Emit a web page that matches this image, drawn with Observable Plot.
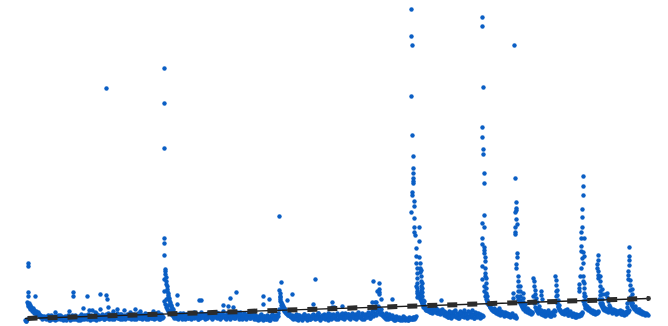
<!DOCTYPE html>
<html>
<head>
<meta charset="utf-8">
<script src="https://cdn.jsdelivr.net/npm/d3@7"></script>
<script src="https://cdn.jsdelivr.net/npm/@observablehq/plot@0.6"></script>
<style>
  html, body { margin: 0; padding: 0; background: #fff; }
  #chart svg { display: block; }
</style>
</head>
<body>
<div id="chart"></div>
<script>
// Daily level, first reading of each day (day = array position)
const baseline = [
  1,0,2,17,15,14,13,12,11,10,9,8,8,7,6,6,5,5,4,3,
  4,2,5,3,1,4,6,2,3,5,1,4,2,6,3,2,5,4,1,3,
  5,2,4,6,3,1,4,2,5,3,6,2,4,1,5,3,7,2,4,6,
  3,5,2,7,4,1,6,3,5,2,4,8,3,6,2,5,3,7,4,2,
  6,3,5,8,2,4,7,3,5,2,6,4,8,3,5,2,7,4,3,6,
  2,5,7,3,4,6,2,5,3,7,4,2,6,5,3,8,4,2,5,6,
  3,7,4,2,6,5,3,4,7,2,5,3,6,4,2,5,7,3,4,
  20,17,14,12,10,9,8,7,6,
  5,4,6,3,7,2,5,4,6,3,8,4,2,5,7,3,6,4,2,5,
  7,3,5,8,4,2,6,3,9,5,4,7,2,6,3,8,5,4,6,3,
  5,9,4,6,3,8,5,2,7,4,10,6,3,5,8,4,6,2,7,5,
  4,8,3,6,9,5,2,7,4,6,3,8,5,2,6,4,7,3,5,8,
  4,2,6,3,5,1,4,2,7,3,1,5,3,2,6,4,1,5,3,7,
  4,2,6,3,5,8,12,
  20,16,14,12,10,9,8,7,6,8,5,
  4,6,2,5,3,7,4,1,6,3,5,2,4,7,3,5,1,6,4,2,
  5,3,7,4,2,6,3,8,5,1,4,6,3,7,2,5,4,8,3,6,
  2,5,7,4,3,6,8,2,5,4,7,3,6,2,8,5,4,7,3,6,
  4,8,5,3,7,2,6,9,4,5,3,8,6,2,7,5,4,9,6,3,
  7,10,5,12,8,6,11,14,9,7,12,8,5,
  6,3,8,4,2,7,5,3,6,2,4,1,5,3,2,4,1,3,2,5,
  2,1,3,2,1,4,2,
  3,2,4,2,3,5,30,26,24,22,20,18,16,14,12,11,
  12,10,13,9,11,8,12,10,9,13,8,11,10,7,9,12,8,6,9,
  5,8,4,10,6,3,9,7,5,11,4,8,6,3,10,7,5,9,4,8,
  6,3,10,5,8,4,11,7,3,9,6,4,8,5,3,
  4,6,5,30,25,22,20,
  18,16,14,12,11,10,13,9,8,11,7,9,6,10,8,7,5,9,6,8,5,7,4,6,8,5,
  4,6,3,25,22,20,18,
  16,14,12,15,10,11,9,12,8,10,7,9,
  25,18,14,11,10,8,12,9,7,
  8,6,10,5,9,7,11,6,8,5,9,7,6,10,
  25,18,14,12,10,9,8,
  10,7,11,8,12,6,9,10,7,5,8,6,4,7,5,6,
  5,7,6,8,20,17,15,
  14,12,11,13,10,9,11,8,10,7,9,
  8,10,22,18,16,14,
  12,11,13,10,12,9,11,14,10,8,12,9,11,7,10,8,9,11,7,10,8,6,9,7,10,
  9,11,20,17,15,
  14,12,13,10,11,9,12,8,10,7,9,8,6,8,7
];

// Second reading, taken on odd days 1, 3, 5, ... 623
const baselineOdd = [
  0,15,12,10,8,7,6,4,
  2,5,3,6,1,4,2,5,3,6,2,4,1,5,3,6,2,4,3,1,5,2,6,3,4,2,5,1,6,3,4,2,7,3,5,2,6,4,3,7,2,5,
  4,6,3,7,2,5,8,3,6,4,2,7,5,3,6,8,4,2,5,
  30,22,16,11,7,
  3,6,4,8,2,5,7,3,6,4,9,5,2,7,4,6,3,8,5,2,6,9,4,3,7,5,2,8,6,4,3,7,5,9,2,6,4,8,3,5,7,2,4,6,3,5,2,4,1,6,3,2,5,
  24,15,11,8,6,5,
  3,5,2,6,4,1,7,3,5,2,6,4,3,8,2,5,4,6,1,7,3,5,2,6,4,8,3,5,7,2,6,4,3,8,5,2,6,4,7,3,
  9,13,7,15,10,6,
  4,2,6,3,5,1,4,2,3,1,4,2,1,3,
  2,4,35,28,24,18,15,12,
  11,9,13,10,12,8,11,9,10,
  7,4,9,5,10,6,3,8,5,11,7,4,9,6,3,8,5,7,
  5,35,26,
  17,14,12,10,11,8,9,7,8,6,7,5,6,
  5,4,30,21,
  15,13,11,10,9,8,
  20,13,10,9,
  7,10,6,9,5,8,11,
  30,15,11,8,
  9,11,6,8,5,7,4,6,
  6,9,25,
  15,13,11,10,9,8,
  9,26,17,
  13,11,12,10,9,11,8,10,9,7,8,9,
  10,24,18,
  13,11,10,9,8,7,7,6
];

// Additional readings (day, value): bursts and outliers
const bursts = [
  [3,58],[3,55],[3,29],[3,25],[10,25],
  [2,19],[3,17],[4,18],[4,15],[5,16],[5,13],[6,14],[7,12],[8,13],[8,10],[9,11],[10,9],[11,10],[12,8],[13,9],[14,7],
  [81,233],
  [48,29],[48,25],[62,25],[75,27],[81,26],[82,22],
  [58,13],[64,11],[67,11],[75,12],[83,14],[92,12],[110,12],[128,10],
  [30,9],[44,10],[70,9],[88,10],[99,11],[105,9],[115,10],[120,8],[133,9],
  [139,253],[139,218],[139,173],[139,83],[139,78],[139,66],[140,52],[140,50],[139,42],[141,44],
  [140,47],[141,40],[141,37],[142,35],[142,32],[142,30],[143,28],[143,26],[143,24],[144,23],[144,21],
  [145,19],[145,17],[146,15],[146,16],[147,13],[148,12],[148,10],
  [152,26],[152,17],[176,21],[174,21],
  [205,23],[211,29],[198,16],[203,15],[208,14],
  [238,25],[238,17],[244,22],
  [256,39],[254,31],[255,28],[255,25],[255,22],[256,19],[257,17],[258,15],[259,13],[260,12],[254,105],
  [262,21],[267,27],
  [290,42],[288,17],[307,19],[307,14],[309,14],[317,15],
  [348,40],[354,38],[352,30],[354,32],[354,29],[354,27],[356,22],[367,22],[350,19],[347,19],[351,19],
  [386,312],[386,285],[387,276],[386,225],[387,186],[388,165],[388,153],[388,148],[388,143],[388,140],
  [388,138],[387,129],[387,126],[389,120],[389,115],[386,109],[389,103],[389,94],[394,94],[389,89],
  [390,86],[394,80],[391,73],[391,65],[394,64],[391,58],[392,53],[395,58],[395,53],[395,49],[392,48],
  [392,43],[392,38],[392,33],[392,28],[392,24],[396,51],[396,45],[396,40],[396,35],[396,31],[396,28],
  [397,38],[397,33],[397,29],[397,25],[397,21],[398,21],[398,17],[398,14],[399,20],[399,16],[400,13],[401,11],
  [416,21],
  [457,304],[457,295],[458,234],[457,194],[457,184],[458,172],[458,167],[459,148],[459,138],[459,106],
  [457,98],[459,94],[457,83],[457,77],[459,74],[459,71],[459,68],[460,64],[460,60],[457,55],[460,53],
  [460,48],[460,45],[457,42],[461,43],[461,38],[461,33],[461,28],[462,25],[462,21],[462,18],[464,16],
  [465,14],[467,12],[469,10],[474,13],[478,9],[482,7],
  [489,276],[490,143],[491,119],[491,113],[491,111],[490,109],[491,102],[492,97],[490,94],[490,89],
  [490,87],[492,68],[492,64],[491,57],[491,53],[493,45],[493,40],[493,35],[495,35],[495,30],[495,25],
  [498,28],[498,23],[498,19],[498,15],[488,28],[488,23],[500,17],[502,13],[505,10],
  [508,43],[509,40],[509,35],[510,31],[510,27],[511,23],[512,19],[514,15],[516,11],[516,30],[516,26],[517,22],
  [530,45],[531,41],[531,36],[532,31],[532,26],[533,21],[534,16],[534,12],
  [558,145],[558,135],[558,126],[557,112],[557,104],[557,94],[556,89],[556,83],[559,83],[556,75],
  [556,70],[558,69],[559,65],[557,63],[558,58],[556,53],[555,45],[558,45],[558,40],[554,37],[554,33],
  [554,30],[559,38],[559,33],[559,28],[560,25],[560,21],[560,17],[560,13],[562,15],[564,12],[566,10],[568,8],
  [573,66],[573,61],[572,57],[572,53],[573,50],[573,46],[573,43],[575,45],[575,40],[575,35],[575,30],
  [577,32],[577,27],[577,22],[577,18],[578,15],[580,12],[582,28],[582,24],[580,27],[583,20],[584,16],[586,11],
  [604,74],[604,65],[604,61],[604,56],[603,50],[603,46],[603,42],[605,41],[605,36],[605,31],[607,32],
  [607,27],[607,22],[607,18],[602,18],[602,14],[610,15],[613,12],[616,10],[619,8]
];

// Linear trend: [day, value] at both ends
const trendDays = [0, 623];
const trendValues = [3, 23];

const points = baseline.map((v, i) => ({day: i, value: v}))
  .concat(baselineOdd.map((v, i) => ({day: 2 * i + 1, value: v})))
  .concat(bursts.map(([d, v]) => ({day: d, value: v})));
const trend = trendDays.map((d, i) => ({day: d, value: trendValues[i]}));

const chart = Plot.plot({
  width: 668,
  height: 326,
  marginLeft: 25,
  marginRight: 20,
  marginTop: 9,
  marginBottom: 5,
  x: {domain: [0, 623], axis: null},
  y: {domain: [0, 312], axis: null},
  marks: [
    Plot.dot(points, {x: "day", y: "value", r: 2.2, fill: "#0a5ec4", stroke: "none"}),
    Plot.line(trend, {x: "day", y: "value", stroke: "#1a1a1a", strokeWidth: 1.4}),
    Plot.line(trend, {x: "day", y: "value", stroke: "#2b2b2b", strokeWidth: 5,
      strokeDasharray: "10,10", strokeDashoffset: 18, strokeLinecap: "butt"}),
    Plot.dot(trend.slice(1), {x: "day", y: "value", r: 2.4, fill: "#333"})
  ]
});
document.getElementById("chart").appendChild(chart);
</script>
</body>
</html>
